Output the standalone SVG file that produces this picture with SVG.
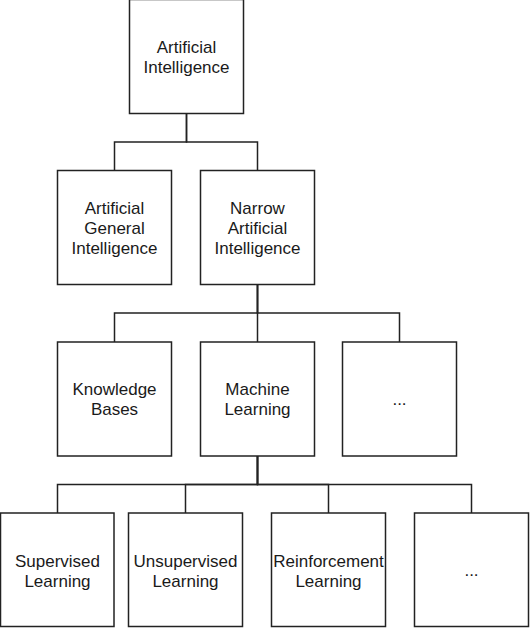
<svg xmlns="http://www.w3.org/2000/svg" width="530" height="628" viewBox="0 0 530 628">
<style>
.box{fill:#fff;stroke:#222;stroke-width:1.5}
.lbl{font-family:"Liberation Sans",Arial,sans-serif;font-size:17px;fill:#1a1a1a;text-anchor:middle}
.edge{fill:none;stroke:#222;stroke-width:1.5}
</style>
<rect width="530" height="628" fill="#fff"/>
<g id="connectors">
<path class="edge" d="M186.5 113.5V142H114.5V170.5"/>
<path class="edge" d="M186.5 113.5V142H257.5V170.5"/>
<path class="edge" d="M257.5 284.5V313H114.5V342"/>
<path class="edge" d="M257.5 284.5V342"/>
<path class="edge" d="M257.5 284.5V313H399.5V342"/>
<path class="edge" d="M257.5 456V484.5H57.5V513"/>
<path class="edge" d="M257.5 456V484.5H185.5V513"/>
<path class="edge" d="M257.5 456V484.5H328.5V513"/>
<path class="edge" d="M257.5 456V484.5H471.5V513"/>
</g>
<g id="ai"><rect class="box" x="129.5" y="-0.5" width="114" height="114"/>
<text class="lbl" x="186.5" y="53">Artificial</text><text class="lbl" x="186.5" y="73">Intelligence</text></g>
<g id="agi"><rect class="box" x="57.5" y="170.5" width="114" height="114"/>
<text class="lbl" x="114.5" y="214">Artificial</text><text class="lbl" x="114.5" y="234">General</text><text class="lbl" x="114.5" y="254">Intelligence</text></g>
<g id="nai"><rect class="box" x="200.5" y="170.5" width="114" height="114"/>
<text class="lbl" x="257.5" y="214">Narrow</text><text class="lbl" x="257.5" y="234">Artificial</text><text class="lbl" x="257.5" y="254">Intelligence</text></g>
<g id="kb"><rect class="box" x="57.5" y="342" width="114" height="114"/>
<text class="lbl" x="114.5" y="395">Knowledge</text><text class="lbl" x="114.5" y="415">Bases</text></g>
<g id="ml"><rect class="box" x="200.5" y="342" width="114" height="114"/>
<text class="lbl" x="257.5" y="395">Machine</text><text class="lbl" x="257.5" y="415">Learning</text></g>
<g id="more1"><rect class="box" x="342.5" y="342" width="114" height="114"/>
<text class="lbl" x="399.5" y="405">...</text></g>
<g id="sl"><rect class="box" x="0.5" y="513" width="113.5" height="113.5"/>
<text class="lbl" x="57.5" y="567">Supervised</text><text class="lbl" x="57.5" y="587">Learning</text></g>
<g id="ul"><rect class="box" x="128.5" y="513" width="114" height="113.5"/>
<text class="lbl" x="185.5" y="567">Unsupervised</text><text class="lbl" x="185.5" y="587">Learning</text></g>
<g id="rl"><rect class="box" x="271.5" y="513" width="114" height="113.5"/>
<text class="lbl" x="328.5" y="567">Reinforcement</text><text class="lbl" x="328.5" y="587">Learning</text></g>
<g id="more2"><rect class="box" x="414.5" y="513" width="114" height="113.5"/>
<text class="lbl" x="471.5" y="576">...</text></g>
</svg>
